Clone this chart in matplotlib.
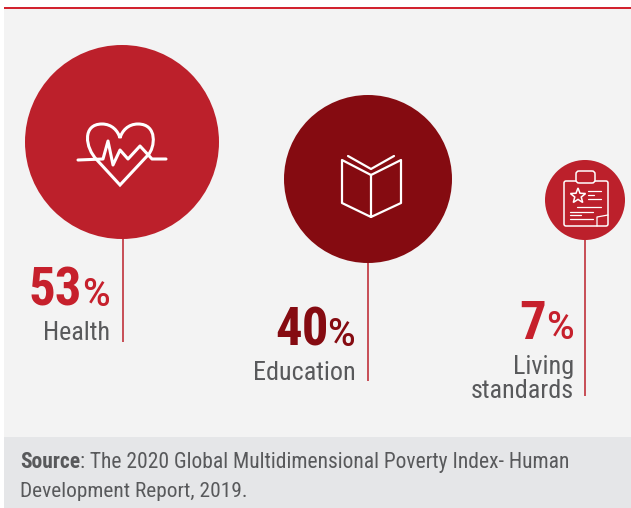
"""
plot.py - poverty index contributions, drawn as circles with leader lines
"""

import matplotlib
matplotlib.use('Agg')
import matplotlib.pyplot as plt
from matplotlib.patches import Circle, Rectangle, FancyBboxPatch, PathPatch
from matplotlib.path import Path
import numpy as np

plt.rcParams['font.family'] = ['Roboto Condensed', 'Archivo Narrow', 'Liberation Sans Narrow', 'Roboto', 'DejaVu Sans']

# data
categories = ['Health', 'Education', 'Living\nstandards']
shares = [53, 40, 7]
source_bold = 'Source'
source_lines = [': The 2020 Global Multidimensional Poverty Index- Human',
                'Development Report, 2019.']

# layout in picture pixels
centres = [(122, 142), (368, 179), (585, 200)]
radii = [97, 84, 40]
leader_ends = [342, 381, 396]
circle_colors = ['#bc202b', '#850b11', '#bc202b']
number_colors = ['#c6202c', '#850b11', '#c6202c']
number_right = [82, 329, 546]
percent_right = [110, 355, 574]
number_base = [306, 346, 339]
label_base = [340, 380, 398]

RED = '#bc202b'
WHITE = 'white'
W, H = 631, 508

fig = plt.figure(figsize=(W / 100, H / 100), dpi=100)
ax = fig.add_axes([0, 0, 1, 1])
ax.set_xlim(0, W)
ax.set_ylim(H, 0)
ax.axis('off')

# panel, top rule, source band
ax.add_patch(Rectangle((4, 8), W - 4, 430, facecolor='#f3f3f3', edgecolor='none', zorder=0))
ax.add_patch(Rectangle((4, 6.5), W - 4, 2.5, facecolor='#d2232f', edgecolor='none', zorder=1))
ax.add_patch(Rectangle((4, 437), W - 4, H - 437, facecolor='#e5e6e8', edgecolor='none', zorder=1))

for i, cat in enumerate(categories):
    cx, cy = centres[i]
    ax.add_patch(Circle((cx, cy), radii[i], facecolor=circle_colors[i], edgecolor='none', zorder=3))
    ax.plot([cx + (1 if i == 0 else 0)] * 2, [cy + radii[i] - 1, leader_ends[i]],
            color=RED, lw=1.1, zorder=2, solid_capstyle='butt')
    ax.text(number_right[i], number_base[i], str(shares[i]), color=number_colors[i], fontsize=38,
            fontweight='bold', ha='right', va='baseline')
    ax.text(percent_right[i], number_base[i], '%', color=number_colors[i], fontsize=27,
            family=['Roboto', 'DejaVu Sans'], fontweight='medium', ha='right', va='baseline')
    ax.text(percent_right[i] + (1 if i == 1 else 0), label_base[i], cat, color='#58595b', fontsize=18.8,
            ha='right', va='baseline', linespacing=1.0, multialignment='right')


def stroke(xs, ys, lw=2.0):
    ax.plot(xs, ys, color=WHITE, lw=lw, zorder=5, solid_joinstyle='round', solid_capstyle='round')


# heart icon
heart = Path([(97, 160), (85, 148), (82, 124), (102, 124), (112, 124), (118, 131), (120, 138),
              (122, 131), (128, 124), (138, 124), (158, 124), (155, 148), (148, 155), (120, 185), (97, 160)],
             [Path.MOVETO, Path.CURVE4, Path.CURVE4, Path.CURVE4, Path.CURVE4, Path.CURVE4, Path.CURVE4,
              Path.CURVE4, Path.CURVE4, Path.CURVE4, Path.CURVE4, Path.CURVE4, Path.CURVE4, Path.LINETO, Path.LINETO])
ax.add_patch(PathPatch(heart, facecolor='none', edgecolor=WHITE, lw=2.2, zorder=5))
stroke([78, 103, 108, 113, 120, 128, 140, 152, 166], [160, 159, 141, 165, 150, 159, 146, 159, 159], lw=2.2)

# book icon
stroke([371, 342, 342, 371, 401, 401, 371, 371], [175, 160, 203, 217, 203, 160, 175, 217], lw=1.6)
stroke([348, 371, 394], [156, 169, 156], lw=1.6)

# clipboard icon
ax.add_patch(FancyBboxPatch((564, 181), 44, 45, boxstyle='round,pad=0,rounding_size=2',
                            facecolor='none', edgecolor=WHITE, lw=1.1, zorder=5))
ax.add_patch(FancyBboxPatch((576, 171), 19, 12, boxstyle='round,pad=0,rounding_size=3',
                            facecolor=RED, edgecolor=WHITE, lw=1.1, zorder=6))
ang = np.deg2rad(np.arange(0, 360, 36) - 90)
rad = np.array([8, 3.4] * 5)
ax.add_patch(plt.Polygon(np.c_[578 + rad * np.cos(ang), 196 + rad * np.sin(ang)], closed=True,
                         facecolor='none', edgecolor=WHITE, lw=1.1, zorder=5))
for x0, x1, y in [(588, 601, 191), (588, 594, 195), (588, 601, 199), (577, 601, 207),
                  (570, 593, 212), (570, 581, 215), (570, 593, 219)]:
    stroke([x0, x1], [y, y], lw=0.9)
stroke([597, 597, 608], [226, 217, 215], lw=0.9)

# source note
t = ax.text(20, 468, source_bold, color='#58595b', fontsize=15.5, fontweight='bold', va='baseline')
fig.canvas.draw()
x_end = ax.transData.inverted().transform(t.get_window_extent().get_points())[1][0]
ax.text(x_end, 468, source_lines[0], color='#58595b', fontsize=15.5, va='baseline')
ax.text(20, 497, source_lines[1], color='#58595b', fontsize=15.4, va='baseline')

fig.savefig('out.png', dpi=100, facecolor='white')
